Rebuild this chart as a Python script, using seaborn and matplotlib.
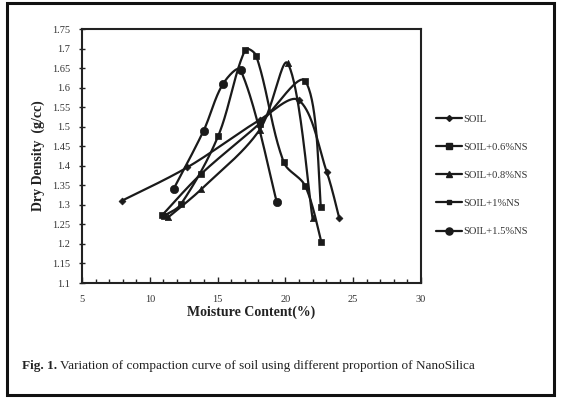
import numpy as np
import pandas as pd
import matplotlib
matplotlib.use("Agg")
import matplotlib.pyplot as plt
from matplotlib.patches import Rectangle
from matplotlib.lines import Line2D
import seaborn as sns

# Compaction test results: moisture content (%) vs dry density (g/cc)
soil_w = [7.97, 12.77, 18.09, 20.98, 23.06, 23.97]
soil_d = [1.311, 1.396, 1.517, 1.568, 1.383, 1.266]

ns06_w = [10.90, 13.75, 18.10, 21.45, 22.62]
ns06_d = [1.273, 1.378, 1.508, 1.617, 1.294]

ns08_w = [11.35, 13.80, 18.10, 20.17, 22.00]
ns08_d = [1.268, 1.340, 1.492, 1.662, 1.266]

ns10_w = [11.05, 12.28, 15.03, 17.04, 17.84, 19.88, 21.45, 22.65]
ns10_d = [1.272, 1.301, 1.475, 1.697, 1.682, 1.409, 1.349, 1.205]

ns15_w = [11.76, 13.97, 15.39, 16.69, 19.36]
ns15_d = [1.341, 1.490, 1.609, 1.645, 1.308]

series_names = ["SOIL", "SOIL+0.6%NS", "SOIL+0.8%NS", "SOIL+1%NS", "SOIL+1.5%NS"]
x_ticks = [5, 10, 15, 20, 25, 30]
y_ticks = [1.1, 1.15, 1.2, 1.25, 1.3, 1.35, 1.4, 1.45, 1.5, 1.55, 1.6, 1.65, 1.7, 1.75]

XMIN, XMAX = 5, 30
YMIN, YMAX = 1.1, 1.75
AX_W, AX_H = 339.0, 254.0  # plot area size in pixels, used for smoothing


def smooth_curve(xs, ys, n=40):
    """Chord-weighted cubic Bezier smoothing computed in screen proportions."""
    X = (np.asarray(xs) - XMIN) / (XMAX - XMIN) * AX_W
    Y = (np.asarray(ys) - YMIN) / (YMAX - YMIN) * AX_H
    P = np.column_stack([X, Y])
    m = len(P)
    out = []
    t = np.linspace(0, 1, n)[:, None]
    for i in range(m - 1):
        p0 = P[max(i - 1, 0)]
        p1 = P[i]
        p2 = P[i + 1]
        p3 = P[min(i + 2, m - 1)]
        d01 = np.linalg.norm(p1 - p0)
        d12 = np.linalg.norm(p2 - p1)
        d23 = np.linalg.norm(p3 - p2)
        w1 = d12 / (d01 + d12) if d01 > 0 else 0.5
        w2 = d12 / (d12 + d23) if d23 > 0 else 0.5
        b1 = p1 + (p2 - p0) * w1 / 3.0
        b2 = p2 - (p3 - p1) * w2 / 3.0
        seg = ((1 - t) ** 3) * p1 + 3 * ((1 - t) ** 2) * t * b1 + 3 * (1 - t) * t ** 2 * b2 + t ** 3 * p2
        out.append(seg if i == 0 else seg[1:])
    S = np.vstack(out)
    sx = S[:, 0] / AX_W * (XMAX - XMIN) + XMIN
    sy = S[:, 1] / AX_H * (YMAX - YMIN) + YMIN
    return sx, sy


sns.set_theme(style="white")
plt.rcParams["font.family"] = ["Liberation Serif", "DejaVu Serif"]

fig = plt.figure(figsize=(5.61, 3.99), dpi=100)
ax = fig.add_axes([82 / 561, 1 - 283 / 399, 339 / 561, 254 / 399])

line_color = "#1a1a1a"
data = [
    (soil_w, soil_d, "D", 3.5),
    (ns06_w, ns06_d, "s", 4.5),
    (ns08_w, ns08_d, "^", 4.5),
    (ns10_w, ns10_d, "s", 3.8),
    (ns15_w, ns15_d, "o", 6.0),
]

handles = []
for (w, d, mk, ms), name in zip(data, series_names):
    sx, sy = smooth_curve(w, d)
    sns.lineplot(x=sx, y=sy, sort=False, estimator=None, ax=ax,
                 color=line_color, linewidth=1.6, legend=False)
    pts = pd.DataFrame({"w": w, "d": d})
    sns.scatterplot(data=pts, x="w", y="d", ax=ax, marker=mk, s=ms ** 2,
                    color=line_color, edgecolor=line_color, linewidth=0.5,
                    zorder=3, legend=False)
    handles.append(Line2D([], [], color=line_color, linewidth=1.6, marker=mk,
                          markersize=ms * 0.85))

if ax.get_legend() is not None:
    ax.get_legend().remove()

ax.set_xlim(XMIN, XMAX)
ax.set_ylim(YMIN, YMAX)
ax.set_xticks(x_ticks)
ax.set_xticklabels([str(v) for v in x_ticks])
ax.set_yticks(y_ticks)
ax.set_yticklabels([f"{v:g}" for v in y_ticks])
ax.set_xticks(np.arange(XMIN, XMAX + 1, 1), minor=True)

for sp in ax.spines.values():
    sp.set_visible(True)
    sp.set_color("#222222")
    sp.set_linewidth(1.5)

ax.tick_params(axis="x", which="major", direction="in", length=4, width=1,
               labelsize=7.5, pad=9, colors="#222222", bottom=True)
ax.tick_params(axis="x", which="minor", direction="in", length=3, width=1,
               bottom=True, colors="#222222")
ax.tick_params(axis="y", which="major", direction="inout", length=5, width=1,
               labelsize=7.5, pad=6, colors="#222222", left=True)
for lab in ax.get_xticklabels() + ax.get_yticklabels():
    lab.set_color("#333333")

ax.set_xlabel("Moisture Content(%)", fontsize=10, fontweight="bold",
              color="#222222", labelpad=1)
ax.set_ylabel("Dry Density  (g/cc)", fontsize=10, fontweight="bold",
              color="#222222", labelpad=5)
ax.grid(False)

leg = fig.legend(handles=handles, labels=series_names, loc="upper left",
                 bbox_to_anchor=(432 / 561, 1 - 110 / 399), frameon=False,
                 fontsize=7.6, handlelength=2.4, handletextpad=0.15,
                 labelspacing=1.78, borderaxespad=0)
for t in leg.get_texts():
    t.set_color("#333333")

# Figure caption with a bold lead-in
cap_y = 1 - 366 / 399
t1 = fig.text(22 / 561, cap_y, "Fig. 1.", fontsize=9.5, fontweight="bold",
              color="#222222", va="center", ha="left")
fig.canvas.draw()
bb = t1.get_window_extent()
fig.text((bb.x1 + 3) / 561, cap_y,
         "Variation of compaction curve of soil using different proportion of NanoSilica",
         fontsize=9.5, color="#222222", va="center", ha="left")

# Outer frame around the figure
fig.patches.append(Rectangle((7 / 561, 4 / 399), 547 / 561, 392 / 399,
                             transform=fig.transFigure, fill=False,
                             edgecolor="#111111", linewidth=2.2))

fig.savefig("out.png", dpi=100, facecolor="white")
